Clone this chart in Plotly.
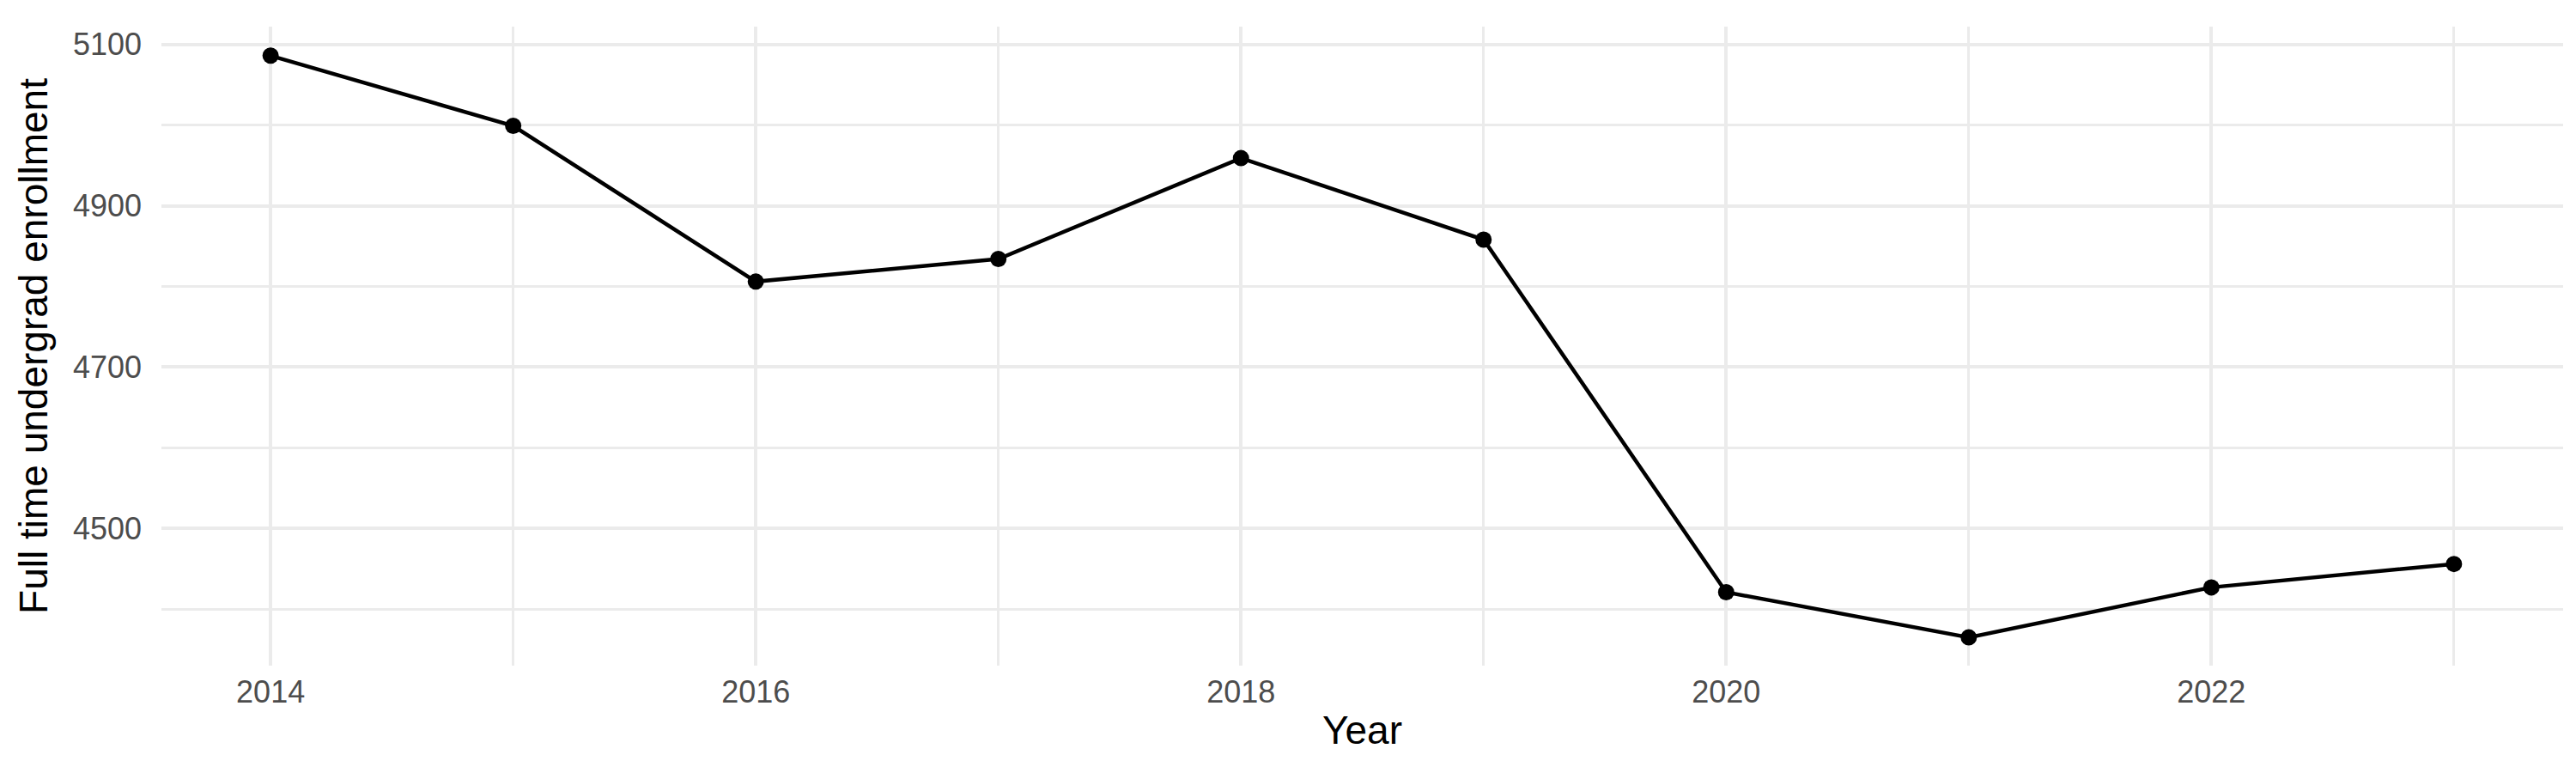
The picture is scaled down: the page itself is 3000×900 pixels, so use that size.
import plotly.graph_objects as go

# enrollment by year
years = [2014, 2015, 2016, 2017, 2018, 2019, 2020, 2021, 2022, 2023]
enrollment = [5086, 4999, 4806, 4834, 4959, 4858, 4421, 4365, 4427, 4456]

x_ticks = [2014, 2016, 2018, 2020, 2022]
x_minor = [2015, 2017, 2019, 2021, 2023]
y_ticks = [4500, 4700, 4900, 5100]
y_minor = [4400, 4600, 4800, 5000]

grid_col = '#EBEBEB'
font_fam = 'Liberation Sans, Helvetica, Arial, sans-serif'

fig = go.Figure(go.Scatter(
    x=years,
    y=enrollment,
    mode='lines+markers',
    line={'color': 'black', 'width': 4.5},
    marker={'color': 'black', 'size': 19},
    showlegend=False,
))

fig.update_layout(
    template='none',
    width=3000,
    height=900,
    margin={'l': 180, 'r': 23, 't': 23, 'b': 133, 'pad': 0},
    paper_bgcolor='white',
    plot_bgcolor='white',
    font={'family': font_fam, 'color': 'black'},
)

fig.update_xaxes(
    automargin=False,
    range=[2013.55, 2023.45],
    tickvals=x_ticks,
    ticktext=[str(v) for v in x_ticks],
    tickfont={'size': 36, 'color': '#4D4D4D'},
    ticks='',
    ticklabelstandoff=6,
    showgrid=True,
    gridcolor=grid_col,
    gridwidth=4.3,
    zeroline=False,
    showline=False,
    minor={'tickvals': x_minor, 'showgrid': True, 'ticks': '',
           'gridcolor': grid_col, 'gridwidth': 2.5},
    title={'text': 'Year', 'font': {'size': 46, 'color': 'black'}, 'standoff': 8},
)

fig.update_yaxes(
    automargin=False,
    range=[4330, 5122],
    tickvals=y_ticks,
    ticktext=[str(v) for v in y_ticks],
    tickfont={'size': 36, 'color': '#4D4D4D'},
    ticks='',
    ticklabelstandoff=22,
    showgrid=True,
    gridcolor=grid_col,
    gridwidth=4.3,
    zeroline=False,
    showline=False,
    minor={'tickvals': y_minor, 'showgrid': True, 'ticks': '',
           'gridcolor': grid_col, 'gridwidth': 2.5},
    title={'text': 'Full time undergrad enrollment', 'font': {'size': 46, 'color': 'black'},
           'standoff': 14},
)

fig.write_html("out.html")
